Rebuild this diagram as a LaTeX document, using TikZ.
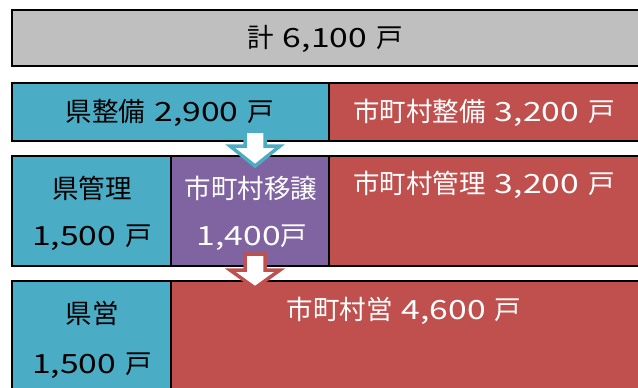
\documentclass[tikz,border=0pt]{standalone}
\usepackage{fontspec}
\setmainfont{Noto Sans CJK JP}
\newfontfamily\dgfont[FakeStretch=1.27]{Noto Sans CJK JP}
\newcommand\dg[1]{{\dgfont #1}}
\newcommand\gap{\hspace{9pt}}
\definecolor{cgray}{HTML}{BFBFBF}
\definecolor{cteal}{HTML}{4BACC6}
\definecolor{cred}{HTML}{C0504D}
\definecolor{cpurple}{HTML}{8064A2}
\tikzset{
  cell/.style={draw=black, line width=1.6pt},
  lbl/.style={inner sep=0pt, font=\fontsize{26.5}{30}\selectfont},
  dark/.style={lbl, text=black},
  light/.style={lbl, text=white},
  blockarrow/.style={line width=3.5pt, fill=white, line join=miter},
}
\begin{document}
\begin{tikzpicture}[x=1pt,y=-1pt]
\useasboundingbox (0,0) rectangle (638,388);
\clip (0,0) rectangle (638,388);
\fill[white] (0,0) rectangle (638,388);
% row 1
\path[cell, fill=cgray] (12,10) rectangle (644,66);
\node[dark] (total) at (325,39) {計\gap{}\dg{6,100}\gap{}戸};
% row 2
\path[cell, fill=cteal] (12,83) rectangle (329,141);
\path[cell, fill=cred] (329,83) rectangle (644,141);
\node[dark] (kenseibi) at (170,113) {県整備\gap{}\dg{2,900}\gap{}戸};
\node[light] (shiseibi) at (484,113) {市町村整備\gap{}\dg{3,200}\gap{}戸};
% row 3
\path[cell, fill=cteal] (12,156) rectangle (171,266);
\path[cell, fill=cpurple] (171,156) rectangle (329,266);
\path[cell, fill=cred] (329,156) rectangle (644,266);
\node[dark] (kenkanri) at (92,188) {県管理};
\node[dark] (kenkanrin) at (92,238) {\dg{1,500}\gap{}戸};
\node[light] (iyo) at (251,188) {市町村移譲};
\node[light] (iyon) at (252,238) {\dg{1,400}戸};
\node[light] (shikanri) at (484,185) {市町村管理\gap{}\dg{3,200}\gap{}戸};
% row 4
\path[cell, fill=cteal] (12,281) rectangle (171,394);
\path[cell, fill=cred] (171,281) rectangle (644,394);
\node[dark] (kenei) at (92,313) {県営};
\node[dark] (kenein) at (92,366) {\dg{1,500}\gap{}戸};
\node[light] (shiei) at (404,311) {市町村営\gap{}\dg{4,600}\gap{}戸};
% arrows
\draw[blockarrow, draw=cteal] (245,131) -- (265,131) -- (265,146) -- (280,146)
  -- (255,166) -- (230,146) -- (245,146) -- cycle;
\draw[blockarrow, draw=cred] (245,254) -- (265,254) -- (265,270) -- (280,270)
  -- (255,288) -- (230,270) -- (245,270) -- cycle;
\end{tikzpicture}
\end{document}
